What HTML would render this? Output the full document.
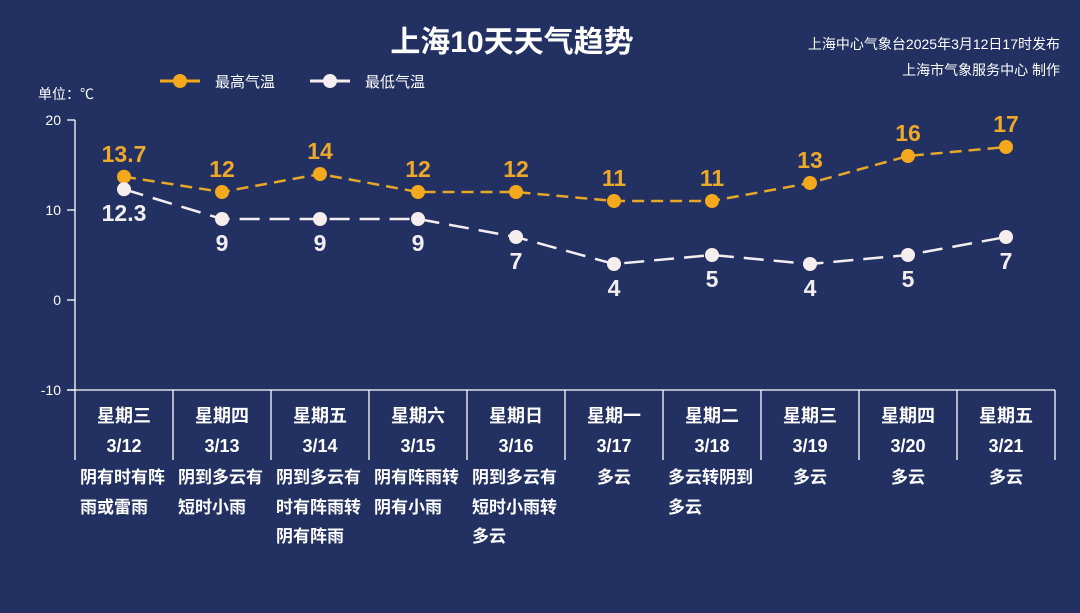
<!DOCTYPE html><html><head><meta charset="utf-8"><style>
body{margin:0;width:1080px;height:613px;background:#223062;overflow:hidden;font-family:"Liberation Sans","Noto Sans CJK SC",sans-serif}
svg{position:absolute;left:0;top:0}
</style></head><body>
<svg width="1080" height="613" xmlns="http://www.w3.org/2000/svg" font-family="Liberation Sans, Noto Sans CJK SC, sans-serif">
<text x="512" y="52" fill="#fff" font-size="30" font-weight="bold" text-anchor="middle">上海10天天气趋势</text>
<text x="1060" y="49" fill="#fff" font-size="14" text-anchor="end">上海中心气象台2025年3月12日17时发布</text>
<text x="1060" y="75" fill="#fff" font-size="14" text-anchor="end">上海市气象服务中心 制作</text>
<line x1="160" y1="81" x2="200" y2="81" stroke="#f4a81c" stroke-width="3"/><circle cx="180" cy="81" r="7" fill="#f4a81c"/>
<text x="215" y="87" fill="#fff" font-size="15">最高气温</text>
<line x1="310" y1="81" x2="350" y2="81" stroke="#f4eeee" stroke-width="3"/><circle cx="330" cy="81" r="7" fill="#f4eeee"/>
<text x="365" y="87" fill="#fff" font-size="15">最低气温</text>
<text x="38" y="99" fill="#fff" font-size="14" font-family="Noto Sans CJK SC, sans-serif">单位：℃</text>
<g fill="#fff" font-size="14" text-anchor="end">
<text x="61" y="125">20</text><text x="61" y="215">10</text><text x="61" y="305">0</text><text x="61" y="395">-10</text></g>
<g stroke="#fff" stroke-width="1.3">
<line x1="75" y1="120" x2="75" y2="460"/>
<line x1="67" y1="120" x2="75" y2="120"/><line x1="67" y1="210" x2="75" y2="210"/><line x1="67" y1="300" x2="75" y2="300"/><line x1="67" y1="390" x2="75" y2="390"/>
<line x1="67" y1="390" x2="1055" y2="390"/>
<line x1="173" y1="390" x2="173" y2="460"/><line x1="271" y1="390" x2="271" y2="460"/><line x1="369" y1="390" x2="369" y2="460"/><line x1="467" y1="390" x2="467" y2="460"/><line x1="565" y1="390" x2="565" y2="460"/><line x1="663" y1="390" x2="663" y2="460"/><line x1="761" y1="390" x2="761" y2="460"/><line x1="859" y1="390" x2="859" y2="460"/><line x1="957" y1="390" x2="957" y2="460"/><line x1="1055" y1="390" x2="1055" y2="460"/>
</g>
<polyline fill="none" stroke="#e7a828" stroke-width="2.5" stroke-dasharray="12,7" points="124,176.7 222,192 320,174 418,192 516,192 614,201 712,201 810,183 908,156 1006,147"/>
<polyline fill="none" stroke="#f4eeee" stroke-width="2.5" stroke-dasharray="20,10" points="124,189.3 222,219 320,219 418,219 516,237 614,264 712,255 810,264 908,255 1006,237"/>
<g fill="#f4a81c"><circle cx="124" cy="176.7" r="7"/><circle cx="222" cy="192" r="7"/><circle cx="320" cy="174" r="7"/><circle cx="418" cy="192" r="7"/><circle cx="516" cy="192" r="7"/><circle cx="614" cy="201" r="7"/><circle cx="712" cy="201" r="7"/><circle cx="810" cy="183" r="7"/><circle cx="908" cy="156" r="7"/><circle cx="1006" cy="147" r="7"/></g>
<g fill="#f6eeec"><circle cx="124" cy="189.3" r="7"/><circle cx="222" cy="219" r="7"/><circle cx="320" cy="219" r="7"/><circle cx="418" cy="219" r="7"/><circle cx="516" cy="237" r="7"/><circle cx="614" cy="264" r="7"/><circle cx="712" cy="255" r="7"/><circle cx="810" cy="264" r="7"/><circle cx="908" cy="255" r="7"/><circle cx="1006" cy="237" r="7"/></g>
<g fill="#eea92a" font-size="23" font-weight="bold" text-anchor="middle">
<text x="124" y="162">13.7</text><text x="222" y="177">12</text><text x="320" y="159">14</text><text x="418" y="177">12</text><text x="516" y="177">12</text><text x="614" y="186">11</text><text x="712" y="186">11</text><text x="810" y="168">13</text><text x="908" y="141">16</text><text x="1006" y="132">17</text></g>
<g fill="#f2eef0" font-size="23" font-weight="bold" text-anchor="middle">
<text x="124" y="221">12.3</text><text x="222" y="251">9</text><text x="320" y="251">9</text><text x="418" y="251">9</text><text x="516" y="269">7</text><text x="614" y="296">4</text><text x="712" y="287">5</text><text x="810" y="296">4</text><text x="908" y="287">5</text><text x="1006" y="269">7</text></g>
<g fill="#fff" font-size="18" font-weight="bold" text-anchor="middle">
<text x="124" y="422">星期三</text><text x="222" y="422">星期四</text><text x="320" y="422">星期五</text><text x="418" y="422">星期六</text><text x="516" y="422">星期日</text><text x="614" y="422">星期一</text><text x="712" y="422">星期二</text><text x="810" y="422">星期三</text><text x="908" y="422">星期四</text><text x="1006" y="422">星期五</text>
<text x="124" y="452">3/12</text><text x="222" y="452">3/13</text><text x="320" y="452">3/14</text><text x="418" y="452">3/15</text><text x="516" y="452">3/16</text><text x="614" y="452">3/17</text><text x="712" y="452">3/18</text><text x="810" y="452">3/19</text><text x="908" y="452">3/20</text><text x="1006" y="452">3/21</text></g>
<g fill="#fff" font-size="17" font-weight="bold">
<text x="80" y="483">阴有时有阵</text><text x="80" y="513">雨或雷雨</text>
<text x="178" y="483">阴到多云有</text><text x="178" y="513">短时小雨</text>
<text x="276" y="483">阴到多云有</text><text x="276" y="513">时有阵雨转</text><text x="276" y="542">阴有阵雨</text>
<text x="374" y="483">阴有阵雨转</text><text x="374" y="513">阴有小雨</text>
<text x="472" y="483">阴到多云有</text><text x="472" y="513">短时小雨转</text><text x="472" y="542">多云</text>
<text x="597" y="483">多云</text>
<text x="668" y="483">多云转阴到</text><text x="668" y="513">多云</text>
<text x="793" y="483">多云</text><text x="891" y="483">多云</text><text x="989" y="483">多云</text>
</g>
</svg></body></html>
